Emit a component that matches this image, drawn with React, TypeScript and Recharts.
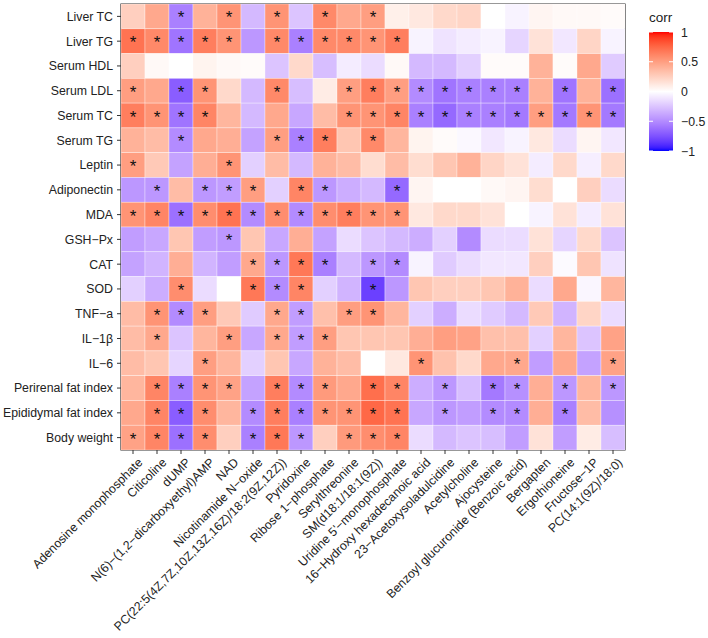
import React from 'react';
import { ScatterChart, Scatter, XAxis, YAxis, ReferenceArea } from 'recharts';

const rowLabels = [
  'Liver TC', 'Liver TG', 'Serum HDL', 'Serum LDL', 'Serum TC', 'Serum TG', 'Leptin',
  'Adiponectin', 'MDA', 'GSH\u2212Px', 'CAT', 'SOD', 'TNF\u2212a', 'IL\u22121\u03b2', 'IL\u22126',
  'Perirenal fat index', 'Epididymal fat index', 'Body weight',
];

const colLabels = [
  'Adenosine monophosphate',
  'Citicoline',
  'dUMP',
  'N(6)\u2212(1,2\u2212dicarboxyethyl)AMP',
  'NAD',
  'Nicotinamide N\u2212oxide',
  'PC(22:5(4Z,7Z,10Z,13Z,16Z)/18:2(9Z,12Z))',
  'Pyridoxine',
  'Ribose 1\u2212phosphate',
  'Serylthreonine',
  'SM(d18:1/18:1(9Z))',
  "Uridine 5'\u2212monophosphate",
  '16\u2212Hydroxy hexadecanoic acid',
  '23\u2212Acetoxysoladulcidine',
  'Acetylcholine',
  'Ajocysteine',
  'Benzoyl glucuronide (Benzoic acid)',
  'Bergapten',
  'Ergothioneine',
  'Fructose\u22121P',
  'PC(14:1(9Z)/18:0)',
];

// correlation values, one array per row (columns in colLabels order)
const liverTC = [0.25, 0.45, -0.55, 0.4, 0.55, -0.3, 0.55, -0.25, 0.6, 0.45, 0.5, 0.08, 0.12, 0.2, 0.22, 0.0, -0.05, 0.05, 0.03, 0.03, 0.02];
const liverTG = [0.7, 0.6, -0.6, 0.65, 0.55, -0.45, 0.6, -0.55, 0.6, 0.6, 0.55, 0.65, -0.05, -0.12, -0.08, -0.05, -0.18, 0.15, -0.1, 0.22, -0.05];
const serumHDL = [0.25, 0.03, 0.0, 0.06, 0.03, 0.02, -0.25, 0.2, -0.28, -0.08, -0.15, 0.03, -0.3, -0.3, -0.2, 0.02, 0.02, 0.4, 0.02, 0.45, -0.22];
const serumLDL = [0.5, 0.45, -0.7, 0.55, 0.2, -0.3, 0.6, -0.28, 0.1, 0.5, 0.65, 0.5, -0.5, -0.6, -0.55, -0.55, -0.55, 0.4, -0.6, 0.4, -0.62];
const serumTC = [0.65, 0.55, -0.6, 0.62, 0.38, -0.3, 0.45, -0.38, 0.35, 0.55, 0.55, 0.62, -0.55, -0.65, -0.55, -0.55, -0.58, 0.5, -0.58, 0.55, -0.58];
const serumTG = [0.4, 0.35, -0.5, 0.45, 0.42, -0.4, 0.5, -0.55, 0.65, 0.3, 0.6, 0.38, 0.06, 0.02, -0.03, -0.1, -0.05, 0.12, -0.15, 0.05, -0.1];
const leptin = [0.5, 0.28, -0.4, 0.42, 0.55, -0.2, 0.35, -0.3, 0.4, 0.35, 0.18, 0.35, 0.18, 0.3, 0.4, 0.22, 0.15, -0.08, 0.2, -0.07, 0.2];
const adiponectin = [-0.45, -0.45, 0.35, -0.45, -0.42, 0.5, -0.2, 0.62, -0.45, -0.35, -0.3, -0.65, 0.05, 0.0, 0.0, 0.03, 0.05, 0.18, 0.0, 0.25, -0.15];
const mda = [0.55, 0.62, -0.62, 0.58, 0.7, -0.5, 0.58, -0.5, 0.58, 0.65, 0.55, 0.55, 0.12, 0.2, 0.2, 0.15, 0.0, -0.05, 0.15, -0.08, 0.15];
const gshPx = [-0.42, -0.38, 0.3, -0.42, -0.45, 0.3, -0.38, 0.42, -0.4, -0.15, -0.25, -0.3, -0.35, -0.2, -0.5, -0.15, -0.15, 0.15, -0.18, 0.2, -0.25];
const cat = [-0.4, -0.32, 0.42, -0.32, -0.42, 0.45, -0.45, 0.68, -0.55, -0.3, -0.45, -0.5, -0.05, -0.22, -0.15, -0.1, -0.1, 0.25, -0.02, 0.3, -0.12];
const sod = [-0.2, -0.35, 0.58, -0.15, 0.0, 0.68, -0.5, 0.62, -0.2, -0.32, -0.82, -0.45, 0.3, 0.25, 0.25, 0.3, 0.4, -0.15, 0.45, -0.04, 0.38];
const tnfA = [0.35, 0.55, -0.5, 0.5, 0.28, -0.22, 0.45, -0.42, 0.33, 0.5, 0.55, 0.38, -0.2, -0.35, -0.15, -0.22, -0.3, 0.28, -0.32, 0.22, -0.15];
const il1b = [0.35, 0.45, -0.25, 0.38, 0.5, -0.38, 0.45, -0.42, 0.5, 0.3, 0.3, 0.3, 0.42, 0.5, 0.48, 0.33, 0.33, -0.2, 0.38, -0.25, 0.48];
const il6 = [0.35, 0.3, -0.18, 0.5, 0.38, -0.2, 0.3, -0.38, 0.4, 0.35, 0.0, 0.12, 0.55, 0.32, 0.2, 0.45, 0.45, -0.42, 0.45, -0.4, 0.48];
const perirenal = [0.38, 0.62, -0.55, 0.55, 0.48, -0.4, 0.65, -0.5, 0.52, 0.45, 0.72, 0.62, -0.35, -0.45, -0.28, -0.58, -0.48, 0.42, -0.45, 0.38, -0.45];
const epididymal = [0.45, 0.62, -0.7, 0.58, 0.38, -0.5, 0.65, -0.55, 0.55, 0.55, 0.75, 0.7, -0.38, -0.45, -0.42, -0.5, -0.5, 0.42, -0.55, 0.35, -0.48];
const bodyWeight = [0.48, 0.62, -0.62, 0.58, 0.25, -0.55, 0.68, -0.45, 0.25, 0.52, 0.58, 0.62, -0.15, -0.3, -0.25, -0.28, -0.42, 0.15, -0.42, 0.1, -0.28];

// significant cells (1-based column numbers) per row
const liverTCSig = [3, 5, 7, 9, 11];
const liverTGSig = [1, 2, 3, 4, 5, 7, 8, 9, 10, 11, 12];
const serumHDLSig: number[] = [];
const serumLDLSig = [1, 3, 4, 7, 10, 11, 12, 13, 14, 15, 16, 17, 19, 21];
const serumTCSig = [1, 2, 3, 4, 10, 11, 12, 13, 14, 15, 16, 17, 18, 19, 20, 21];
const serumTGSig = [3, 7, 8, 9, 11];
const leptinSig = [1, 5];
const adiponectinSig = [2, 4, 5, 6, 8, 9, 12];
const mdaSig = [1, 2, 3, 4, 5, 6, 7, 8, 9, 10, 11, 12];
const gshPxSig = [5];
const catSig = [6, 7, 8, 9, 11, 12];
const sodSig = [3, 6, 7, 8, 11];
const tnfASig = [2, 3, 4, 7, 8, 10, 11];
const il1bSig = [2, 5, 7, 8, 9];
const il6Sig = [4, 13, 17, 21];
const perirenalSig = [2, 3, 4, 5, 7, 8, 9, 11, 12, 14, 16, 17, 19, 21];
const epididymalSig = [2, 3, 4, 6, 7, 8, 9, 10, 11, 12, 14, 16, 17, 19];
const bodyWeightSig = [1, 2, 3, 4, 6, 7, 8, 10, 11, 12];

const legendTicks = [1, 0.5, 0, -0.5, -1];

const rowValues = [liverTC, liverTG, serumHDL, serumLDL, serumTC, serumTG, leptin, adiponectin, mda, gshPx, cat, sod, tnfA, il1b, il6, perirenal, epididymal, bodyWeight];
const rowSigs = [liverTCSig, liverTGSig, serumHDLSig, serumLDLSig, serumTCSig, serumTGSig, leptinSig, adiponectinSig, mdaSig, gshPxSig, catSig, sodSig, tnfASig, il1bSig, il6Sig, perirenalSig, epididymalSig, bodyWeightSig];

const cells = rowValues.flatMap((vals, r) =>
  vals.map((v, c) => ({ x: c + 1, y: r + 1, v, sig: rowSigs[r].includes(c + 1) }))
);

// ---- colour scale (Lab interpolation like ggplot's gradient2) ----
const toLin = (c: number) => {
  const s = c / 255;
  return s <= 0.04045 ? s / 12.92 : Math.pow((s + 0.055) / 1.055, 2.4);
};
const fromLin = (c: number) => {
  const v = c <= 0.0031308 ? 12.92 * c : 1.055 * Math.pow(c, 1 / 2.4) - 0.055;
  return Math.round(Math.max(0, Math.min(1, v)) * 255);
};
const Xn = 0.95047, Yn = 1.0, Zn = 1.08883;
const fLab = (t: number) => (t > 0.008856 ? Math.cbrt(t) : 7.787 * t + 16 / 116);
const fInv = (t: number) => (t > 0.206893 ? t * t * t : (t - 16 / 116) / 7.787);
function rgbToLab(rgb: number[]) {
  const [R, G, B] = rgb.map(toLin);
  const X = 0.4124564 * R + 0.3575761 * G + 0.1804375 * B;
  const Y = 0.2126729 * R + 0.7151522 * G + 0.072175 * B;
  const Z = 0.0193339 * R + 0.119192 * G + 0.9503041 * B;
  const fx = fLab(X / Xn), fy = fLab(Y / Yn), fz = fLab(Z / Zn);
  return [116 * fy - 16, 500 * (fx - fy), 200 * (fy - fz)];
}
function labToHex(lab: number[]) {
  const [L, a, b] = lab;
  const fy = (L + 16) / 116;
  const fx = fy + a / 500;
  const fz = fy - b / 200;
  const X = fInv(fx) * Xn, Y = fInv(fy) * Yn, Z = fInv(fz) * Zn;
  const R = 3.2404542 * X - 1.5371385 * Y - 0.4985314 * Z;
  const G = -0.969266 * X + 1.8760108 * Y + 0.041556 * Z;
  const B = 0.0556434 * X - 0.2040259 * Y + 1.0572252 * Z;
  return '#' + [R, G, B].map((c) => fromLin(c).toString(16).padStart(2, '0')).join('');
}
const LAB_RED = rgbToLab([255, 0, 0]);
const LAB_BLUE = rgbToLab([0, 0, 255]);
const LAB_WHITE = rgbToLab([255, 255, 255]);
function corrColor(v: number) {
  const t = Math.min(1, Math.abs(v));
  const end = v >= 0 ? LAB_RED : LAB_BLUE;
  return labToHex(LAB_WHITE.map((w, i) => w + (end[i] - w) * t));
}

// ---- layout ----
const W = 708;
const H = 638;
const MARGIN = { top: 4, right: 83, bottom: 0, left: 0 };
const Y_AXIS_W = 121;
const X_AXIS_H = 188;
const PLOT_W = W - MARGIN.left - MARGIN.right - Y_AXIS_W;
const PLOT_H = H - MARGIN.top - MARGIN.bottom - X_AXIS_H;
const CELL_W = PLOT_W / colLabels.length;
const CELL_H = PLOT_H / rowLabels.length;
const FONT = '"Liberation Sans", Arial, Helvetica, sans-serif';
const LABEL_SIZE = 12.3;

const CellShape = (props: any) => {
  const { cx, cy, payload } = props;
  if (cx == null || cy == null) return null;
  return (
    <g>
      <rect
        x={cx - CELL_W / 2}
        y={cy - CELL_H / 2}
        width={CELL_W}
        height={CELL_H}
        fill={corrColor(payload.v)}
        stroke="#ffffff"
        strokeOpacity={0.55}
        strokeWidth={0.6}
      />
      {payload.sig ? (
        <text x={cx} y={cy + 7} textAnchor="middle" fontSize={17} fontFamily={FONT} fill="#111">
          *
        </text>
      ) : null}
    </g>
  );
};

const XTick = (props: any) => {
  const { x, y, payload } = props;
  const ax = x + 4;
  const ay = y + 1;
  return (
    <text
      x={ax}
      y={ay}
      transform={`rotate(-45, ${ax}, ${ay})`}
      textAnchor="end"
      dy="0.72em"
      fontSize={LABEL_SIZE}
      fontFamily={FONT}
      fill="#222"
    >
      {colLabels[payload.value - 1]}
    </text>
  );
};

const YTick = (props: any) => {
  const { x, y, payload } = props;
  return (
    <text x={x} y={y} dy="0.36em" textAnchor="end" fontSize={LABEL_SIZE} fontFamily={FONT} fill="#222">
      {rowLabels[payload.value - 1]}
    </text>
  );
};

const xTicks = colLabels.map((_, i) => i + 1);
const yTicks = rowLabels.map((_, i) => i + 1);

const Legend = () => {
  const bx = 649, by = 32, bw = 24, bh = 119;
  const stops = Array.from({ length: 41 }, (_, i) => 1 - i / 20);
  const yOf = (v: number) => by + ((1 - v) / 2) * bh;
  return (
    <svg width={W} height={H} style={{ position: 'absolute', left: 0, top: 0, pointerEvents: 'none' }}>
      <defs>
        <linearGradient id="corrGrad" x1="0" y1="0" x2="0" y2="1">
          {stops.map((v, i) => (
            <stop key={i} offset={`${(i / (stops.length - 1)) * 100}%`} stopColor={corrColor(v)} />
          ))}
        </linearGradient>
      </defs>
      <text x={bx} y={22} fontSize={13.5} fontFamily={FONT} fill="#222">corr</text>
      <rect x={bx} y={by} width={bw} height={bh} fill="url(#corrGrad)" />
      {legendTicks.map((t) => (
        <g key={t}>
          <line x1={bx} x2={bx + 4} y1={yOf(t)} y2={yOf(t)} stroke="#fff" strokeWidth={1} />
          <line x1={bx + bw - 4} x2={bx + bw} y1={yOf(t)} y2={yOf(t)} stroke="#fff" strokeWidth={1} />
          <text x={bx + bw + 8} y={yOf(t) + 4.5} fontSize={LABEL_SIZE} fontFamily={FONT} fill="#222">
            {t < 0 ? '\u2212' + Math.abs(t) : String(t)}
          </text>
        </g>
      ))}
    </svg>
  );
};

export default function App() {
  return (
    <div style={{ position: 'absolute', left: 0, top: 0, width: W, height: H, background: '#fff' }}>
      <ScatterChart width={W} height={H} margin={MARGIN}>
        <XAxis
          type="number"
          dataKey="x"
          domain={[0.5, colLabels.length + 0.5]}
          ticks={xTicks}
          interval={0}
          height={X_AXIS_H}
          axisLine={false}
          tickLine={{ stroke: '#333' }}
          tickSize={4}
          tickMargin={2}
          tick={<XTick />}
          allowDataOverflow
        />
        <YAxis
          type="number"
          dataKey="y"
          domain={[0.5, rowLabels.length + 0.5]}
          reversed
          ticks={yTicks}
          interval={0}
          width={Y_AXIS_W}
          axisLine={false}
          tickLine={{ stroke: '#333' }}
          tickSize={4}
          tickMargin={4}
          tick={<YTick />}
          allowDataOverflow
        />
        <Scatter data={cells} shape={<CellShape />} isAnimationActive={false} />
        <ReferenceArea
          x1={0.5}
          x2={colLabels.length + 0.5}
          y1={0.5}
          y2={rowLabels.length + 0.5}
          fill="none"
          fillOpacity={0}
          stroke="#333"
          strokeWidth={1.2}
          ifOverflow="visible"
        />
      </ScatterChart>
      <Legend />
    </div>
  );
}
